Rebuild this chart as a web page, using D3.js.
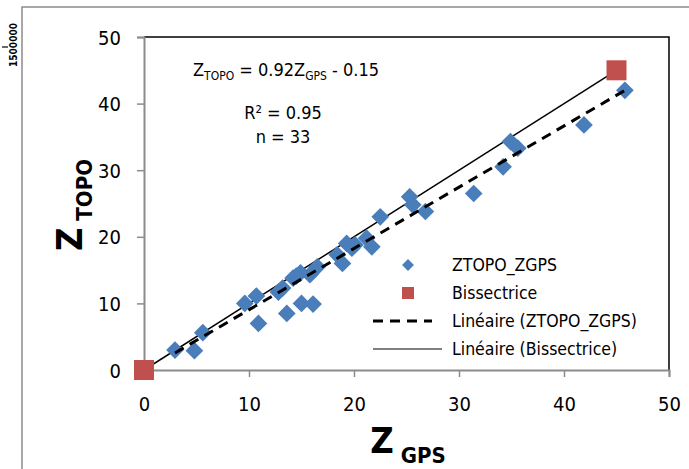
<!DOCTYPE html>
<html><head><meta charset="utf-8">
<script src="https://cdn.jsdelivr.net/npm/d3@7"></script>
<style>body{margin:0;background:#fff}svg{display:block}text{font-family:"DejaVu Sans Condensed","DejaVu Sans",sans-serif}</style>
</head><body>
<svg id="c" width="689" height="469"></svg>
<script>
const zgps = [2.95,4.8,5.6,9.6,10.7,10.9,12.8,13.2,13.6,14.2,14.5,14.9,15.0,16.1,15.8,16.5,18.4,18.9,19.3,19.8,20.1,21.2,21.7,22.5,25.3,25.6,26.8,31.4,34.2,34.9,35.6,41.9,45.8];
const ztopo = [3.0,2.9,5.6,10.0,11.1,7.0,11.7,12.3,8.5,13.8,14.1,14.6,10.0,9.9,14.3,15.5,17.3,16.0,19.0,18.3,18.8,19.8,18.5,23.0,26.0,24.8,23.8,26.5,30.5,34.3,33.3,36.8,42.0];
const bisX = [0,45];
const bisY = [0,45];
const slope = 0.92, intercept = -0.15;
const xTicks = [0,10,20,30,40,50];
const yTicks = [0,10,20,30,40,50];
const legendLabels = ["ZTOPO_ZGPS","Bissectrice","Linéaire (ZTOPO_ZGPS)","Linéaire (Bissectrice)"];

const svg = d3.select("#c");
const L=144,R=669,T=37,B=370;
const x = d3.scaleLinear().domain([0,50]).range([L,R]);
const y = d3.scaleLinear().domain([0,50]).range([B,T]);
const blue="#4a7ebb", red="#c0504d", grey="#8c8c8c";

// outer border
svg.append("path").attr("d","M22,469 V7 H689").attr("fill","none").attr("stroke",grey).attr("stroke-width",1.5);
// stray label
svg.append("text").attr("transform","translate(17,45) rotate(-90)").attr("text-anchor","middle")
  .attr("font-size",10).attr("font-weight","bold").text("1500000");
svg.append("line").attr("x1",2).attr("x2",8).attr("y1",47).attr("y2",47).attr("stroke","#000").attr("stroke-width",1.2);

// plot frame top/right
svg.append("path").attr("d",`M${L},${T} H${R} V${B}`).attr("fill","none").attr("stroke","#000").attr("stroke-width",1.5);

// axes
const xa = svg.append("g").attr("transform",`translate(0,${B})`)
  .call(d3.axisBottom(x).tickValues(xTicks).tickSize(7).tickPadding(20));
const ya = svg.append("g").attr("transform",`translate(${L},0)`)
  .call(d3.axisLeft(y).tickValues(yTicks).tickSize(7).tickPadding(16));
[xa,ya].forEach(a=>{
  a.select(".domain").attr("stroke",grey).attr("stroke-width",2);
  a.selectAll(".tick line").attr("stroke",grey).attr("stroke-width",1.5);
  a.selectAll(".tick text").attr("font-size",20).attr("fill","#000").attr("font-family","DejaVu Sans Condensed");
});
ya.selectAll(".tick text").attr("dy","0.35em");

// bissectrice line
svg.append("line").attr("x1",x(bisX[0])).attr("y1",y(bisY[0])).attr("x2",x(bisX[1])).attr("y2",y(bisY[1]))
  .attr("stroke","#000").attr("stroke-width",1.5);

// points
const sym = d3.symbol().type(d3.symbolDiamond2).size(200);
svg.append("g").selectAll("path").data(zgps.map((v,i)=>[v,ztopo[i]])).join("path")
  .attr("transform",d=>`translate(${x(d[0])},${y(d[1])})`).attr("d",sym).attr("fill",blue);

// trend line
const xmin=d3.min(zgps), xmax=d3.max(zgps);
svg.append("line").attr("x1",x(xmin)).attr("y1",y(slope*xmin+intercept)).attr("x2",x(xmax)).attr("y2",y(slope*xmax+intercept))
  .attr("stroke","#000").attr("stroke-width",3).attr("stroke-dasharray","10,7");

// bissectrice squares
const sq=20;
svg.append("g").selectAll("rect").data(bisX.map((v,i)=>[v,bisY[i]])).join("rect")
  .attr("x",d=>x(d[0])-sq/2).attr("y",d=>y(d[1])-sq/2).attr("width",sq).attr("height",sq).attr("fill",red);

// annotation
const ann = svg.append("text").attr("x",193).attr("y",76).attr("font-size",18);
ann.append("tspan").text("Z");
ann.append("tspan").attr("font-size",12).attr("dy",4).text("TOPO");
ann.append("tspan").attr("dy",-4).text(" = 0.92Z");
ann.append("tspan").attr("font-size",12).attr("dy",4).text("GPS");
ann.append("tspan").attr("dy",-4).text(" - 0.15");
svg.append("text").attr("x",283).attr("y",119).attr("text-anchor","middle").attr("font-size",18).text("R² = 0.95");
svg.append("text").attr("x",283).attr("y",143).attr("text-anchor","middle").attr("font-size",18).text("n = 33");

// legend
const lg = svg.append("g");
const ly=[265,293,321,349];
lg.append("path").attr("transform",`translate(408,${ly[0]})`).attr("d",d3.symbol().type(d3.symbolDiamond2).size(90)).attr("fill",blue);
lg.append("rect").attr("x",402).attr("y",ly[1]-6).attr("width",12).attr("height",12).attr("fill",red);
lg.append("line").attr("x1",373).attr("x2",432).attr("y1",ly[2]).attr("y2",ly[2]).attr("stroke","#000").attr("stroke-width",3).attr("stroke-dasharray","10,7");
lg.append("line").attr("x1",373).attr("x2",442).attr("y1",ly[3]).attr("y2",ly[3]).attr("stroke","#000").attr("stroke-width",1.2);
lg.selectAll("text").data(legendLabels).join("text").attr("x",452).attr("y",(d,i)=>ly[i]).attr("dy","0.35em")
  .attr("font-size",17.5).text(d=>d);

// axis titles
const xt = svg.append("text").attr("x",408).attr("y",453).attr("text-anchor","middle").attr("font-weight","bold");
xt.append("tspan").attr("font-size",36).text("Z");
xt.append("tspan").attr("font-size",22).attr("dy",10).text(" GPS");
const yt = svg.append("text").attr("transform","translate(82,205) rotate(-90)").attr("text-anchor","middle").attr("font-weight","bold");
yt.append("tspan").attr("font-size",36).text("Z");
yt.append("tspan").attr("font-size",22).attr("dy",10).text(" TOPO");
</script>
</body></html>
